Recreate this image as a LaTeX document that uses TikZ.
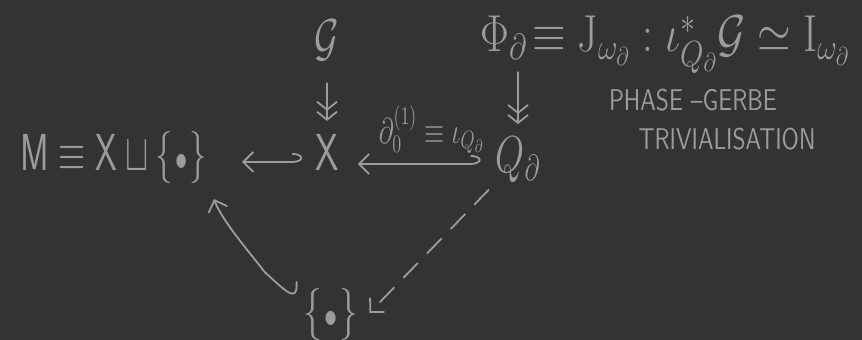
\RequirePackage{fix-cm}
\documentclass[tikz,border=0pt]{standalone}
\usepackage{amsmath,amssymb}
\usepackage{graphicx}
\usetikzlibrary{arrows.meta,calc}
\definecolor{bg}{HTML}{333333}
\definecolor{ink}{HTML}{9C9C9C}
\newcommand\nar[1]{\scalebox{0.72}[1]{#1}}
\newcommand\narm[1]{\scalebox{0.67}[1]{#1}}
\newcommand\wid[1]{\scalebox{0.83}[1]{#1}}
\newcommand\pt{\mkern1mu{\scriptstyle\bullet}\mkern1mu}
\tikzset{
  big/.style={text=ink, font=\fontsize{26}{30}\selectfont},
  lab/.style={text=ink, font=\fontsize{18}{21}\selectfont},
  captxt/.style={text=ink, font=\fontsize{15}{18}\selectfont\sffamily},
  ln/.style={draw=ink, line width=0.9pt, line cap=round, line join=round},
  arr/.style={ln, -{Straight Barb[length=5pt,width=10pt,line width=0.9pt]}},
  dbl/.style={ln, -{Straight Barb[length=4pt,width=10pt,line width=0.9pt] Straight Barb[length=4pt,width=10pt,line width=0.9pt]}},
  hook/.style={ln, {Hooks[left,length=5pt,width=9pt,line width=0.9pt]}-{Straight Barb[length=5pt,width=10pt,line width=0.9pt]}}
}
\begin{document}
\begin{tikzpicture}[x=0.5pt,y=-0.5pt]
\fill[bg] (0,0) rectangle (862,340);
\useasboundingbox (0,0) rectangle (862,340);

\node[big] (G) at (327,40) {\nar{$\mathcal{G}$}};
\node[big] (X) at (327,152) {\nar{$\mathsf{X}$}};
\node[big, anchor=east] (M) at (214,158) {\narm{$\mathsf{M} \equiv \mathsf{X} \sqcup \{\pt\}$}};
\node[big] (Q) at (518,160) {\nar{$Q_\partial$}};
\node[big, anchor=base west, inner sep=1pt] (phi) at (478,52) {\wid{$\Phi_\partial$}};
\node[big, anchor=base west, inner sep=1pt] (eq) at (phi.base east) {\wid{$\equiv \mathrm{J}_{\omega_\partial} : \iota^{*}_{Q_\partial}\mathcal{G} \simeq \mathrm{I}_{\omega_\partial}$}};
\node[big] (bot) at (331,315) {\nar{$\{\pt\}$}};

\node[captxt] (ph) at (693,100) {\scalebox{0.8}[1]{PHASE --GERBE}};
\node[captxt] (tr) at (727,139) {\scalebox{0.8}[1]{TRIVIALISATION}};

\draw[dbl, shorten <=8pt, shorten >=3pt] (G) -- (X);
\draw[dbl, shorten <=5pt, shorten >=3pt] (Q.north |- phi.south) -- (Q.north);

\draw[hook, shorten <=3pt, shorten >=14pt] ([yshift=-5pt]X.west) -- ([yshift=-5pt]X.west -| M.east);
\draw[hook, shorten <=4pt, shorten >=6pt] ([yshift=-2pt]Q.west) -- ([yshift=-2pt]Q.west -| X.east)
  node[lab, pos=0.4, above=1.5pt] (lbl) {\nar{$\partial^{(1)}_0 \equiv \iota_{Q_\partial}$}};

\draw[arr] (bot.north west) .. controls +(1,22) and +(22,20) .. ++(-32,-10)
  .. controls +(-12,-16) and +(8,22) .. ([yshift=-4pt]M.south east);
\draw[arr, dash pattern=on 10pt off 7pt] (Q.south west) -- ([xshift=2pt,yshift=1pt]bot.east);
\end{tikzpicture}
\end{document}
